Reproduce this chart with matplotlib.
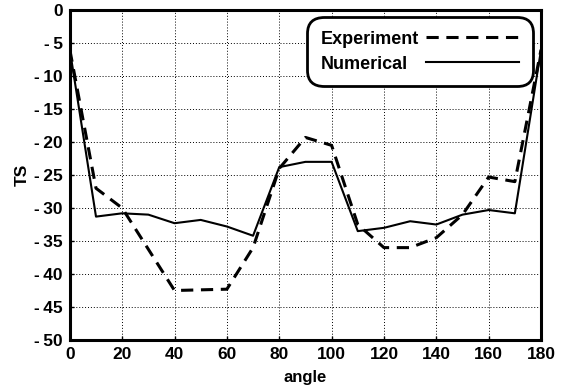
import matplotlib
matplotlib.use("Agg")
import matplotlib.pyplot as plt

angles = [0, 10, 20, 30, 40, 50, 60, 70, 80, 90, 100, 110, 120, 130, 140, 150, 160, 170, 180]
numerical = [-6, -31.3, -30.8, -31.0, -32.3, -31.8, -32.8, -34.2, -23.8, -23.0, -23.0, -33.5, -33.0, -32.0, -32.5, -31.0, -30.3, -30.8, -6]
exp_angles = [0, 10, 20, 40, 60, 70, 80, 90, 100, 110, 120, 130, 140, 150, 160, 170, 180]
experiment = [-6, -27.0, -30.0, -42.5, -42.3, -36.0, -24.0, -19.3, -20.5, -32.5, -36.0, -36.0, -34.5, -31.0, -25.3, -26.0, -6]
xticks = [0, 20, 40, 60, 80, 100, 120, 140, 160, 180]
yticks = [0, -5, -10, -15, -20, -25, -30, -35, -40, -45, -50]

plt.rcParams['font.family'] = ['Liberation Sans', 'DejaVu Sans']
plt.rcParams['font.weight'] = 'bold'

fig = plt.figure(figsize=(5.63, 3.89), dpi=100)
ax = fig.add_axes([0.124, 0.126, 0.837, 0.848])

ax.plot(exp_angles, experiment, color='black', lw=2.2, ls=(0, (4, 2.5)), label='Experiment')
ax.plot(angles, numerical, color='black', lw=1.5, label='Numerical')

ax.set_xlim(0, 180)
ax.set_ylim(-50, 0)
ax.set_xticks(xticks)
ax.set_xticklabels([str(t) for t in xticks], fontsize=12.5, fontweight='bold')
ax.set_yticks(yticks)
ax.set_yticklabels([('-\u2009' + str(-t)) if t < 0 else str(t) for t in yticks], fontsize=12.5, fontweight='bold')
ax.tick_params(direction='in', length=3, width=1, pad=5)
ax.grid(True, color='black', ls=(0, (1, 2)), lw=0.7)
for s in ax.spines.values():
    s.set_linewidth(2.2)
ax.set_xlabel('angle', fontsize=12, fontweight='bold', labelpad=6)
ax.set_ylabel('TS', fontsize=12.5, fontweight='bold', labelpad=3)

leg = ax.legend(loc='upper right', bbox_to_anchor=(0.983, 0.979), borderaxespad=0,
                markerfirst=False, fancybox=True, framealpha=1, edgecolor='black',
                handlelength=5.2, handletextpad=0.35, prop={'weight': 'bold', 'size': 13},
                borderpad=0.75, labelspacing=0.45)
leg.get_frame().set_linewidth(2.0)
leg.get_frame().set_boxstyle('round', pad=0.0, rounding_size=0.9)

# left-align labels while keeping handles right-aligned
fig.canvas.draw()
r = fig.canvas.get_renderer()
col = leg._legend_handle_box.get_children()[0]
items = col.get_children()
widths = [t.get_window_extent(r).width for t in leg.get_texts()]
maxw = max(widths)
for item, w in zip(items, widths):
    item.sep = item.sep + (maxw - w) * 72.0 / fig.dpi

fig.savefig('out.png', dpi=100)
